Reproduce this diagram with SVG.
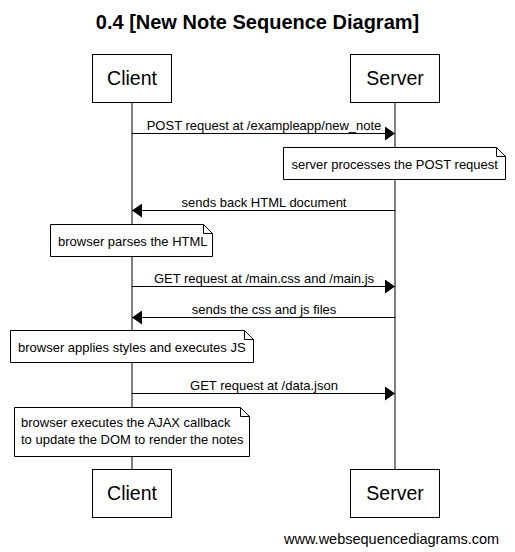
<svg xmlns="http://www.w3.org/2000/svg" width="515" height="552" viewBox="0 0 515 552">
<defs>
<style>
text{font-family:"Liberation Sans",Arial,sans-serif;fill:#000}
.title{font-size:20px;font-weight:bold;text-anchor:middle}
.actor{font-size:19.5px;text-anchor:middle}
.lbl{font-size:13px;text-anchor:middle}
.nt{font-size:13px}
.box{fill:#fff;stroke:#000;stroke-width:1}
.life{stroke:#000;stroke-width:1;fill:none}
.msg{stroke:#000;stroke-width:1;fill:none}
.note{fill:#fff;stroke:#000;stroke-width:1}
.fold{fill:none;stroke:#000;stroke-width:1}
</style>
<marker id="ah" viewBox="0 0 10 14" refX="10" refY="7" markerWidth="10" markerHeight="14" markerUnits="userSpaceOnUse" orient="auto">
<path d="M0,0 L10,7 L0,14 Z" fill="#000"/>
</marker>
</defs>
<rect width="515" height="552" fill="#fff"/>
<text class="title" x="257.5" y="29">0.4 [New Note Sequence Diagram]</text>
<g id="lifelines">
<line class="life" x1="132" y1="103" x2="132" y2="469"/>
<line class="life" x1="395" y1="103" x2="395" y2="469"/>
</g>
<g id="client-top"><rect class="box" x="92.5" y="54.5" width="79" height="48"/><text class="actor" x="132" y="85">Client</text></g>
<g id="server-top"><rect class="box" x="350.5" y="54.5" width="89" height="48"/><text class="actor" x="395" y="85">Server</text></g>
<g id="connectors">
<line class="msg" x1="132" y1="133.5" x2="395" y2="133.5" marker-end="url(#ah)"/>
<text class="lbl" x="264" y="129.5">POST request at /exampleapp/new_note</text>
<line class="msg" x1="395" y1="210.5" x2="132" y2="210.5" marker-end="url(#ah)"/>
<text class="lbl" x="264" y="206.5">sends back HTML document</text>
<line class="msg" x1="132" y1="286.5" x2="395" y2="286.5" marker-end="url(#ah)"/>
<text class="lbl" x="264" y="282.5">GET request at /main.css and /main.js</text>
<line class="msg" x1="395" y1="317.5" x2="132" y2="317.5" marker-end="url(#ah)"/>
<text class="lbl" x="264" y="313.5">sends the css and js files</text>
<line class="msg" x1="132" y1="393.5" x2="395" y2="393.5" marker-end="url(#ah)"/>
<text class="lbl" x="264" y="389.5">GET request at /data.json</text>
</g>
<g id="note-server">
<path class="note" d="M283.5,147.5 H496.5 L505.5,156.5 V179.5 H283.5 Z"/>
<path class="fold" d="M496.5,147.5 V156.5 H505.5"/>
<text class="nt" x="291.5" y="169">server processes the POST request</text>
</g>
<g id="note-parse">
<path class="note" d="M50.5,224.5 H203.5 L212.5,233.5 V256.5 H50.5 Z"/>
<path class="fold" d="M203.5,224.5 V233.5 H212.5"/>
<text class="nt" x="58" y="245.5">browser parses the HTML</text>
</g>
<g id="note-styles">
<path class="note" d="M10.5,330.5 H244.5 L253.5,339.5 V362.5 H10.5 Z"/>
<path class="fold" d="M244.5,330.5 V339.5 H253.5"/>
<text class="nt" x="18" y="351.5">browser applies styles and executes JS</text>
</g>
<g id="note-ajax">
<path class="note" d="M14.5,407.5 H240.5 L249.5,416.5 V456.5 H14.5 Z"/>
<path class="fold" d="M240.5,407.5 V416.5 H249.5"/>
<text class="nt" x="21" y="427">browser executes the AJAX callback</text>
<text class="nt" x="21" y="444">to update the DOM to render the notes</text>
</g>
<g id="client-bottom"><rect class="box" x="92.5" y="469.5" width="79" height="48"/><text class="actor" x="132" y="500">Client</text></g>
<g id="server-bottom"><rect class="box" x="350.5" y="469.5" width="89" height="48"/><text class="actor" x="395" y="500">Server</text></g>
<text x="284" y="544" style="font-size:14.5px">www.websequencediagrams.com</text>
</svg>
